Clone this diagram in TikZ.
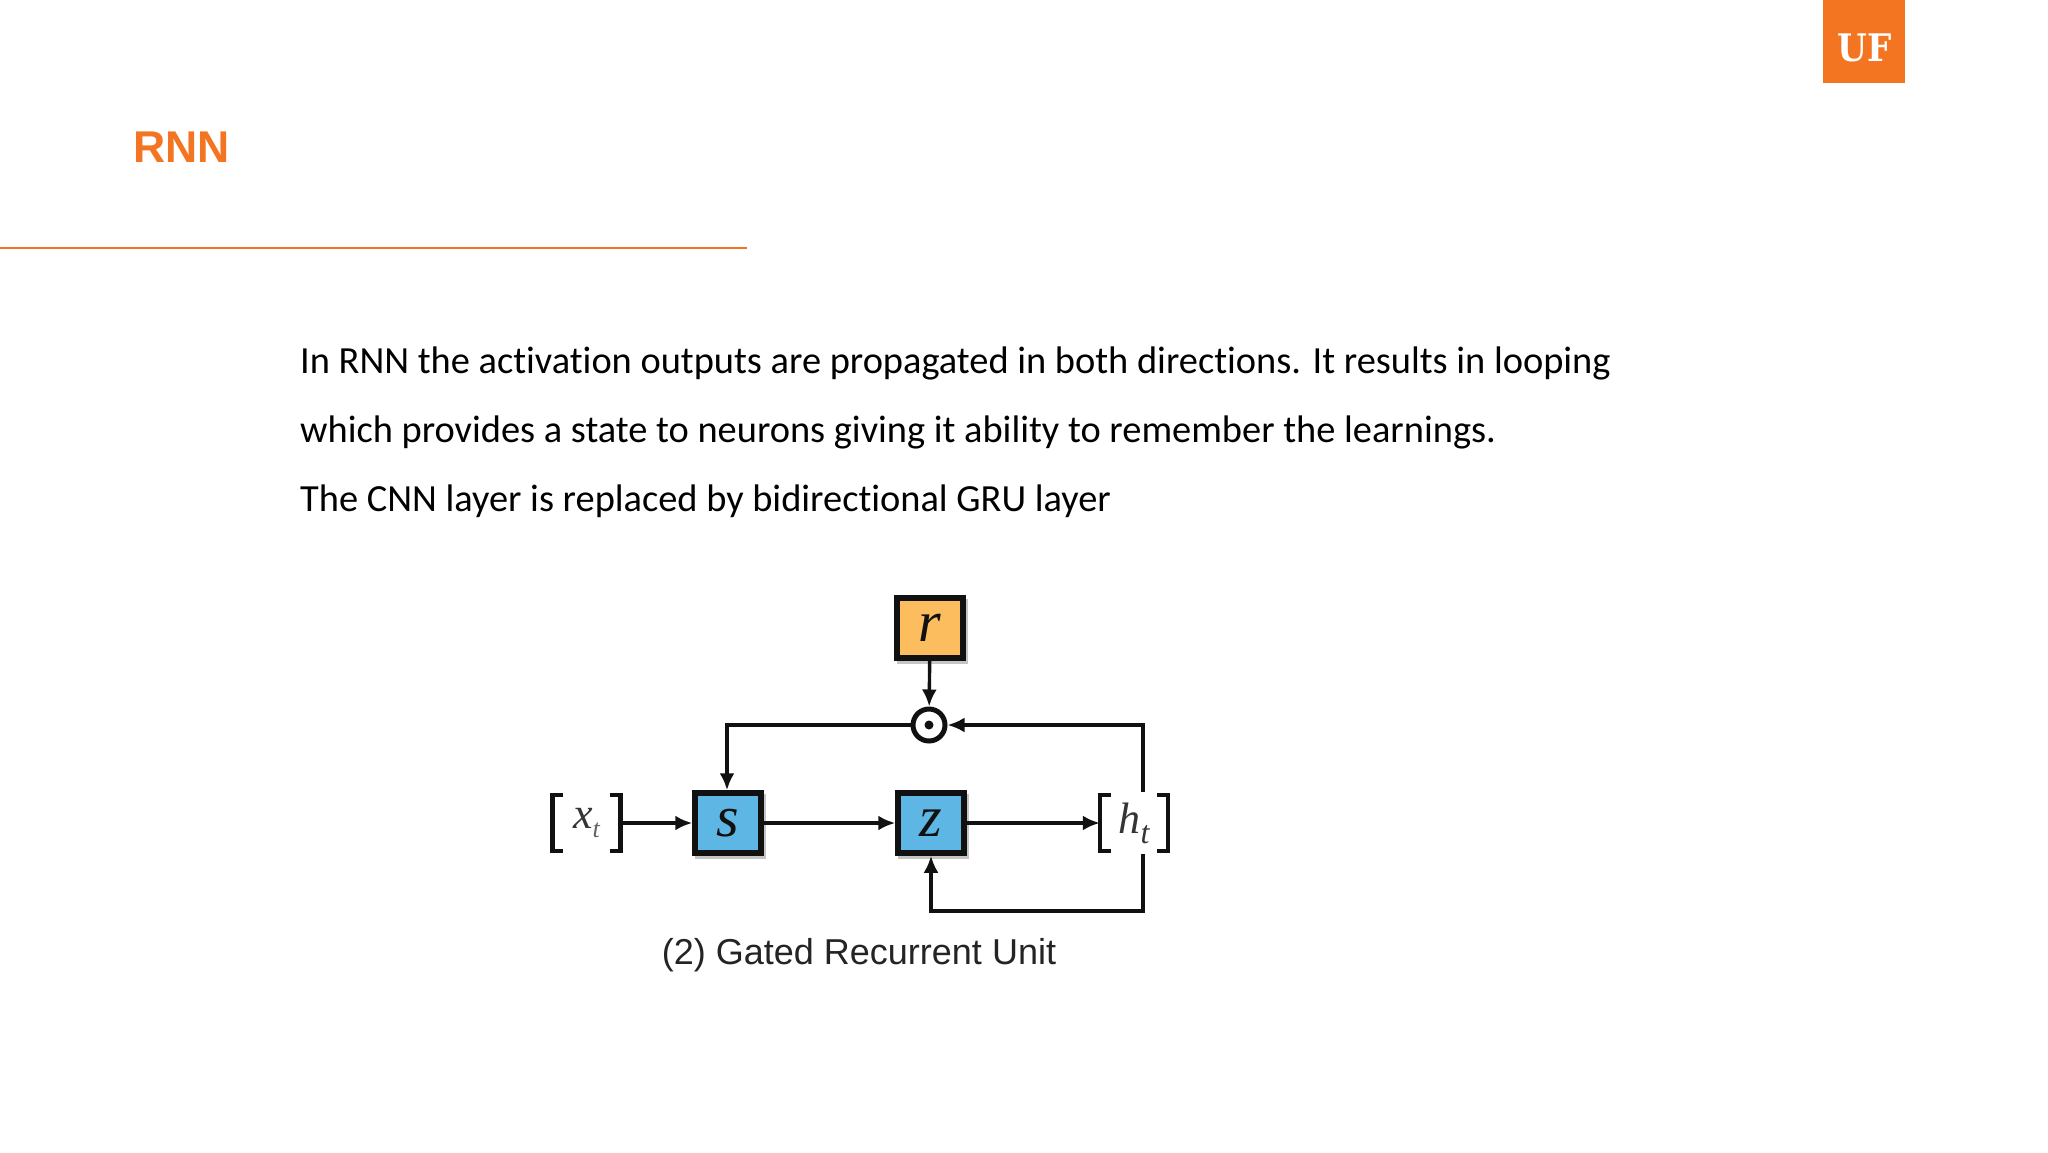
\documentclass[tikz,border=0pt]{standalone}
\usepackage{fontspec}
\setmainfont[Ligatures=NoCommon]{Carlito}
\newfontfamily\arialfont{Liberation Sans}
\newfontfamily\timesfont{Liberation Serif}
\newfontfamily\slabfont{DejaVu Serif Condensed}
\usetikzlibrary{arrows.meta,calc,shadows}
\definecolor{uforange}{HTML}{F47521}
\definecolor{boxblue}{HTML}{5DB6E4}
\definecolor{boxamber}{HTML}{FBBD5E}
\definecolor{ink}{HTML}{111111}
\tikzset{
  slidetext/.style={anchor=base west,inner sep=0pt,font=\fontsize{38.4}{38.4}\selectfont,text=black},
  gatebox/.style={draw=ink,line width=5.5pt,minimum width=66pt,minimum height=60pt,inner sep=0pt,
    font=\timesfont\itshape\fontsize{58}{58}\selectfont,text=ink,
    drop shadow={shadow xshift=2pt,shadow yshift=-3pt,shadow scale=1.08,opacity=.45}},
  vecnode/.style={minimum width=68pt,minimum height=56pt,inner sep=0pt,text=ink!85,
    font=\timesfont\itshape\fontsize{44}{44}\selectfont},
  bracket/.style={draw=ink,line width=4.5pt},
  wire/.style={draw=ink,line width=3.4pt},
  arrowwire/.style={wire,-{Latex[length=17pt,width=15pt]}}
}
\begin{document}
\begin{tikzpicture}[x=1pt,y=-1pt]
\useasboundingbox (0,0) rectangle (2048,1152);
\fill[white] (0,0) rectangle (2048,1152);
% header
\node[fill=uforange,minimum width=82pt,minimum height=83pt,inner sep=0pt,anchor=north west] (logo) at (1823,0) {};
\node[text=white,inner sep=0pt,font=\slabfont\bfseries\fontsize{38}{38}\selectfont] (uf) at (1865,48) {UF};
\node[anchor=base west,inner sep=0pt,text=uforange,font=\arialfont\bfseries\fontsize{44.5}{44.5}\selectfont] (title) at (133,162.5) {RNN};
\coordinate (ruleL) at (0,248);
\coordinate (ruleR) at (747,248);
\draw[uforange,line width=1.8pt] (ruleL) -- (ruleR);
% body
\node[slidetext] (l1) at (300,373) {In RNN the activation outputs are propagated in both directions. It results in looping};
\node[slidetext] (l2) at (300,442) {which provides a state to neurons giving it ability to remember the learnings.};
\node[slidetext] (l3) at (300,511.5) {The CNN layer is replaced by bidirectional GRU layer};
% diagram
\node[gatebox,fill=boxamber] (r) at (930,628) {r};
\node[gatebox,fill=boxblue] (s) at (728,823) {s};
\node[gatebox,fill=boxblue] (z) at (931,823) {z};
\node[draw=ink,line width=5pt,circle,minimum size=32pt,inner sep=0pt,fill=white] (dot) at (929,725) {};
\fill[ink] (dot.center) circle (4.5pt);
\node[vecnode] (xt) at (586.5,823) {x\raisebox{-9pt}{\fontsize{26}{26}\selectfont\textcolor{ink!65}{t}}};
\node[vecnode] (ht) at (1134,823) {h\raisebox{-10pt}{\fontsize{32}{32}\selectfont t}};
\foreach \n in {xt,ht}{
  \draw[bracket] ($(\n.north west)+(11,0)$) -- (\n.north west) -- (\n.south west) -- ($(\n.south west)+(11,0)$);
  \draw[bracket] ($(\n.north east)+(-11,0)$) -- (\n.north east) -- (\n.south east) -- ($(\n.south east)+(-11,0)$);
}
\coordinate (topR) at (1143,725);
\coordinate (botR) at (1143,911);
\coordinate (botZ) at (931,911);
\coordinate (topS) at (727,725);
\draw[arrowwire] (r) -- (dot);
\draw[arrowwire] (xt.east) -- (s.west);
\draw[arrowwire] (s.east) -- (z.west);
\draw[arrowwire] (z.east) -- (ht.west);
\draw[arrowwire] (dot.west) -- (topS) -- (s.north -| topS);
\draw[arrowwire] (ht.north -| topR) ++(0,-3) -- (topR) -- (dot.east);
\draw[arrowwire] (ht.south -| botR) ++(0,3) -- (botR) -- (botZ) -- (z.south);
\node[inner sep=0pt,text=ink!92,font=\arialfont\fontsize{36}{36}\selectfont] (cap) at (859,955) {(2) Gated Recurrent Unit};
\end{tikzpicture}
\end{document}
